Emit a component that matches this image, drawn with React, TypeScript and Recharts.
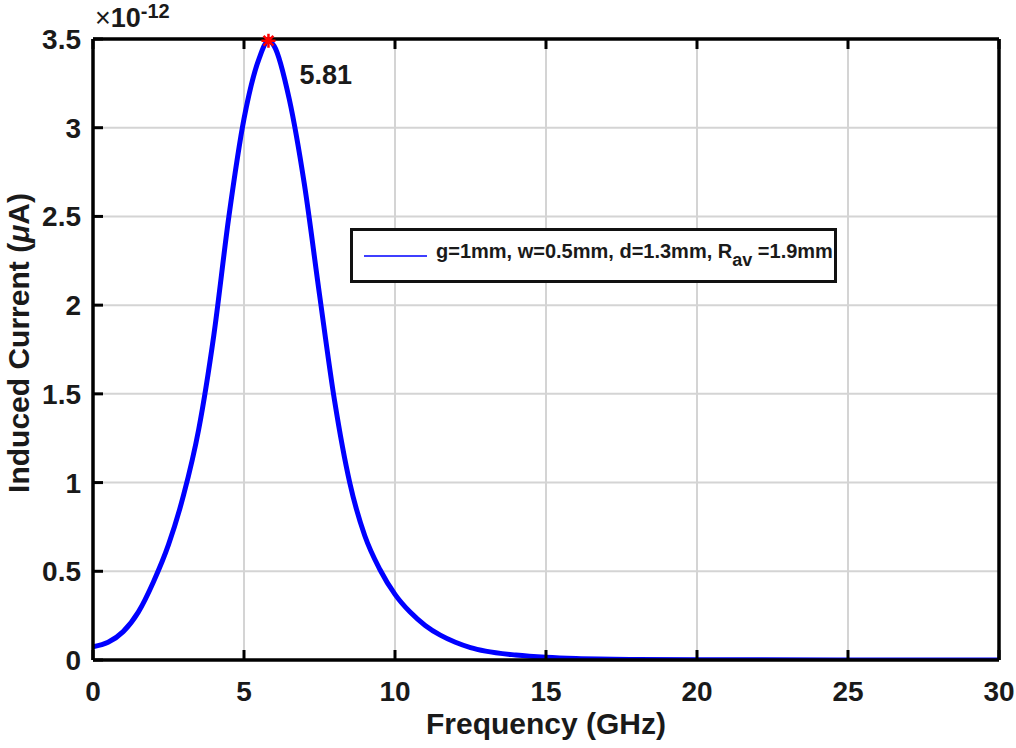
import React from "react";
import {
  CartesianGrid,
  Legend,
  Line,
  LineChart,
  ReferenceDot,
  XAxis,
  YAxis,
} from "recharts";

// frequency in GHz, current in units of 1e-12 uA
const frequency = [
  0, 0.5, 1, 1.5, 2, 2.5, 3, 3.5, 4, 4.5, 5, 5.5, 5.81, 6, 6.5, 7, 7.5, 8, 8.5,
  9, 9.5, 10, 10.5, 11, 11.5, 12, 12.5, 13, 14, 15, 16, 18, 20, 22, 25, 28, 30,
];
const current = [
  0.075, 0.1, 0.16, 0.27, 0.44, 0.65, 0.93, 1.3, 1.83, 2.5, 3.05, 3.39, 3.49,
  3.46, 3.16, 2.68, 2.06, 1.46, 1.0, 0.7, 0.51, 0.37, 0.27, 0.195, 0.14, 0.1,
  0.07, 0.05, 0.028, 0.015, 0.008, 0.003, 0.0015, 0.001, 0.0005, 0.0003, 0.0002,
];
const xTicks = [0, 5, 10, 15, 20, 25, 30];
const yTicks = [0, 0.5, 1, 1.5, 2, 2.5, 3, 3.5];
const peak = { f: 5.81, v: 3.49, label: "5.81" };
const legendMain = "g=1mm, w=0.5mm, d=1.3mm, R";
const legendSub = "av";
const legendTail = " =1.9mm";

const data = frequency.map((f, i) => ({ f, v: current[i] }));

const FONT = "'Liberation Sans', Arial, sans-serif";
const TICK_LEN = 10;

const BottomTick = (props: any) => {
  const { x, y, payload } = props;
  return (
    <g>
      <line x1={x} x2={x} y1={y} y2={y - TICK_LEN} stroke="#000" strokeWidth={3} />
      <text
        x={x}
        y={y + 41}
        textAnchor="middle"
        fontFamily={FONT}
        fontWeight="bold"
        fontSize={28}
        fill="#1a1a1a"
      >
        {payload.value}
      </text>
    </g>
  );
};

const LeftTick = (props: any) => {
  const { x, y, payload } = props;
  return (
    <g>
      <line x1={x} x2={x + TICK_LEN} y1={y} y2={y} stroke="#000" strokeWidth={3} />
      <text
        x={x - 12}
        y={y + 10}
        textAnchor="end"
        fontFamily={FONT}
        fontWeight="bold"
        fontSize={28}
        fill="#1a1a1a"
      >
        {payload.value}
      </text>
    </g>
  );
};

const TopTick = (props: any) => {
  const { x, y } = props;
  return <line x1={x} x2={x} y1={y} y2={y + TICK_LEN} stroke="#000" strokeWidth={3} />;
};

const RightTick = (props: any) => {
  const { x, y } = props;
  return <line x1={x} x2={x - TICK_LEN} y1={y} y2={y} stroke="#000" strokeWidth={3} />;
};

const PeakMarker = (props: any) => {
  const { cx, cy } = props;
  const r = 7;
  return (
    <g>
      <g stroke="#ff0000" strokeWidth={2.5}>
        <line x1={cx - r} x2={cx + r} y1={cy} y2={cy} />
        <line x1={cx} x2={cx} y1={cy - r} y2={cy + r} />
        <line x1={cx - r * 0.7} x2={cx + r * 0.7} y1={cy - r * 0.7} y2={cy + r * 0.7} />
        <line x1={cx - r * 0.7} x2={cx + r * 0.7} y1={cy + r * 0.7} y2={cy - r * 0.7} />
      </g>
      <text
        x={cx + 31}
        y={cy + 43}
        fontFamily={FONT}
        fontWeight="bold"
        fontSize={27}
        fill="#1a1a1a"
      >
        {peak.label}
      </text>
    </g>
  );
};

const LegendBox = () => (
  <div
    style={{
      width: 481,
      height: 49,
      border: "3px solid #111",
      background: "#fff",
      display: "flex",
      alignItems: "center",
      fontFamily: FONT,
      fontWeight: "bold",
      fontSize: 20,
      color: "#1a1a1a",
      boxSizing: "content-box",
    }}
  >
    <svg width={74} height={10} style={{ marginLeft: 9 }}>
      <line x1={2} x2={65} y1={5} y2={5} stroke="#3f3fff" strokeWidth={2} />
    </svg>
    <span style={{ whiteSpace: "nowrap" }}>
      {legendMain}
      <sub style={{ fontSize: 18, verticalAlign: -8 }}>{legendSub}</sub>
      {legendTail}
    </span>
  </div>
);

export default function App() {
  return (
    <div
      style={{
        position: "absolute",
        left: 0,
        top: 0,
        width: 1016,
        height: 748,
        background: "#fff",
      }}
    >
      <LineChart
        width={1016}
        height={748}
        data={data}
        margin={{ top: 29, right: 7, bottom: 48, left: 33 }}
      >
        <CartesianGrid stroke="#d4d4d4" strokeWidth={2} vertical horizontal />
        <XAxis
          dataKey="f"
          type="number"
          domain={[0, 30]}
          ticks={xTicks}
          interval={0}
          height={40}
          tickSize={0}
          tickMargin={0}
          tick={<BottomTick />}
          axisLine={{ stroke: "#000", strokeWidth: 3.5 }}
          tickLine={false}
          allowDataOverflow
        />
        <XAxis
          xAxisId="top"
          orientation="top"
          dataKey="f"
          type="number"
          domain={[0, 30]}
          ticks={xTicks}
          interval={0}
          height={10}
          tickSize={0}
          tickMargin={0}
          tick={<TopTick />}
          axisLine={{ stroke: "#000", strokeWidth: 3.5 }}
          tickLine={false}
        />
        <YAxis
          type="number"
          domain={[0, 3.5]}
          ticks={yTicks}
          interval={0}
          width={60}
          tickSize={0}
          tickMargin={0}
          tick={<LeftTick />}
          axisLine={{ stroke: "#000", strokeWidth: 3.5 }}
          tickLine={false}
          allowDataOverflow
        />
        <YAxis
          yAxisId="right"
          orientation="right"
          type="number"
          domain={[0, 3.5]}
          ticks={yTicks}
          interval={0}
          width={10}
          tickSize={0}
          tickMargin={0}
          tick={<RightTick />}
          axisLine={{ stroke: "#000", strokeWidth: 3.5 }}
          tickLine={false}
        />
        <Line
          type="monotone"
          dataKey="v"
          name="g=1mm, w=0.5mm, d=1.3mm, Rav =1.9mm"
          stroke="#0000ff"
          strokeWidth={5}
          dot={false}
          isAnimationActive={false}
        />
        <ReferenceDot x={peak.f} y={peak.v} shape={<PeakMarker />} ifOverflow="visible" />
        <Legend
          layout="horizontal"
          verticalAlign="middle"
          align="center"
          content={<LegendBox />}
          wrapperStyle={{ position: "absolute", left: 350, top: 228, width: 487, height: 55 }}
        />
      </LineChart>

      <div
        style={{
          position: "absolute",
          left: 95,
          top: 0,
          fontFamily: FONT,
          color: "#1a1a1a",
          fontSize: 27,
          whiteSpace: "nowrap",
        }}
      >
        <span style={{ fontWeight: "normal" }}>×</span>
        <span style={{ fontWeight: "bold" }}>10</span>
        <sup style={{ fontWeight: "bold", fontSize: 20, verticalAlign: 9 }}>-12</sup>
      </div>

      <div
        style={{
          position: "absolute",
          left: 546,
          top: 724,
          transform: "translate(-50%, -50%)",
          fontFamily: FONT,
          fontWeight: "bold",
          fontSize: 30,
          color: "#1a1a1a",
          whiteSpace: "nowrap",
        }}
      >
        Frequency (GHz)
      </div>

      <div
        style={{
          position: "absolute",
          left: 19,
          top: 343,
          transform: "translate(-50%, -50%) rotate(-90deg)",
          fontFamily: FONT,
          fontWeight: "bold",
          fontSize: 30,
          color: "#1a1a1a",
          whiteSpace: "nowrap",
        }}
      >
        Induced Current (<i>μ</i>A)
      </div>
    </div>
  );
}
